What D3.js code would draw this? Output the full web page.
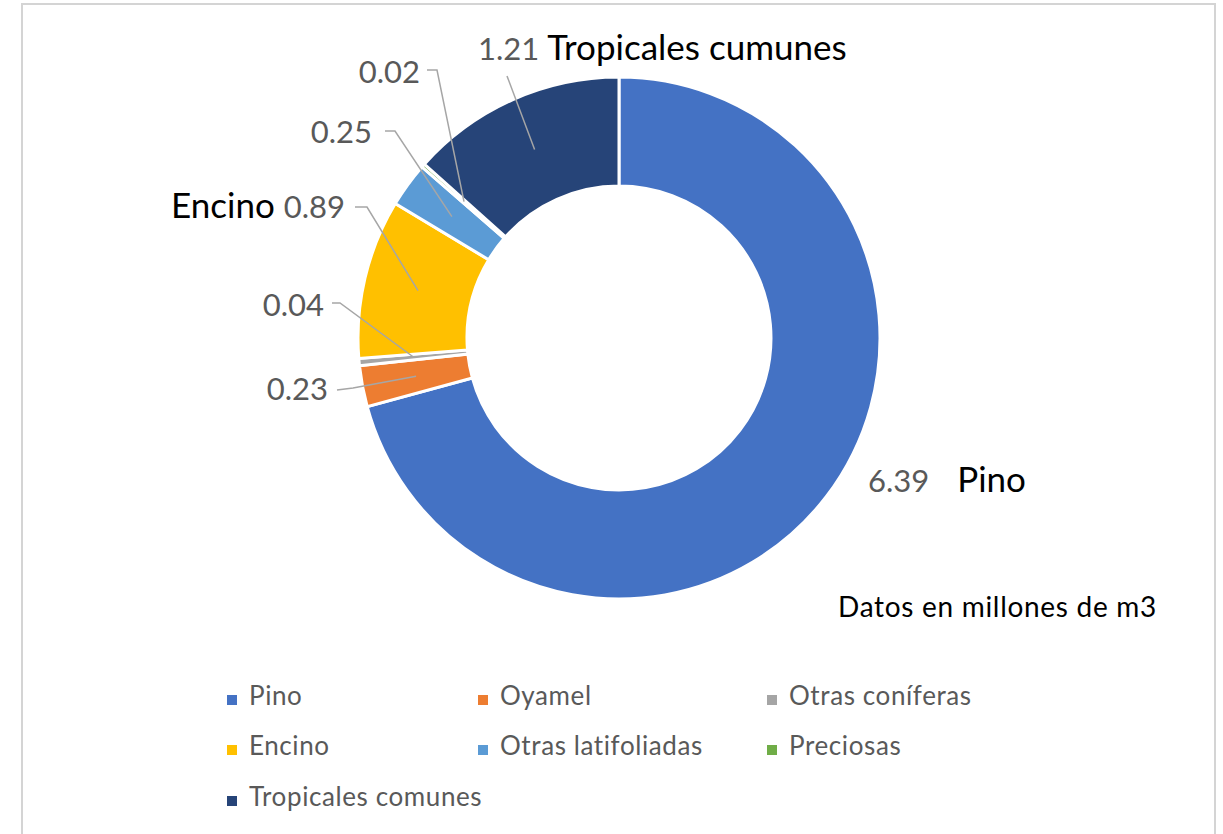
<!DOCTYPE html>
<html>
<head>
<meta charset="utf-8">
<script src="https://cdn.jsdelivr.net/npm/d3@7"></script>
<style>
  body { margin: 0; background: #fff; }
  svg { display: block; font-family: Lato, "Open Sans", sans-serif; }
</style>
</head>
<body>
<div id="donut-chart"></div>
<script>
// data (millones de m3)
var categories = ["Pino", "Oyamel", "Otras coníferas", "Encino", "Otras latifoliadas", "Preciosas", "Tropicales comunes"];
var values = [6.39, 0.23, 0.04, 0.89, 0.25, 0.02, 1.21];
var colors = ["#4472C4", "#ED7D31", "#A5A5A5", "#FFC000", "#5B9BD5", "#70AD47", "#264478"];
// extra category text written next to some labels (as in original)
var labelNames = ["Pino", "", "", "Encino", "", "", "Tropicales cumunes"];
var note = "Datos en millones de m3";

// label layout: text anchor point, start of leader line, elbow
var labelLayout = [
    {x: 868, y: 492, anchor: "start", gap: 28, line: null},
    {x: 328, y: 400, anchor: "end", line: [[337, 390], [353, 388]]},
    {x: 324, y: 316, anchor: "end", line: [[332, 303], [340, 303]]},
    {x: 345, y: 218, anchor: "end", line: [[355, 207], [367, 207]]},
    {x: 372, y: 143, anchor: "end", line: [[385, 131], [395, 131]]},
    {x: 420, y: 83, anchor: "end", line: [[427, 70], [437, 70]]},
    {x: 478, y: 60, anchor: "start", gap: 8, line: [[507, 76]]}
];

var width = 1223;
var height = 834;
var cx = 619, cy = 338;
var outerR = 261, innerR = 152;

var svg = d3.select("#donut-chart")
    .append("svg")
    .attr("width", width)
    .attr("height", height);

// chart frame
svg.append("path")
    .attr("d", "M22,834 V4 H1215 V834")
    .attr("fill", "none")
    .attr("stroke", "#d4d4d4")
    .attr("stroke-width", 2);

var data = categories.map(function (c, i) {
    return {name: c, value: values[i], color: colors[i], label: labelNames[i], layout: labelLayout[i]};
});

var pie = d3.pie()
    .sort(null)
    .value(d => d.value);

var arc = d3.arc()
    .innerRadius(innerR)
    .outerRadius(outerR);

var arcs = pie(data);

var g = svg.append("g")
    .attr("transform", "translate(" + cx + "," + cy + ")");

g.selectAll("path.slice")
    .data(arcs)
    .join("path")
    .attr("class", "slice")
    .attr("d", arc)
    .attr("fill", d => d.data.color)
    .attr("stroke", "#fff")
    .attr("stroke-width", 3);

// leader lines
svg.append("g")
    .selectAll("polyline")
    .data(arcs.filter(d => d.data.layout.line))
    .join("polyline")
    .attr("points", function (d) {
        var c = arc.centroid(d);
        var pts = d.data.layout.line.concat([[c[0] + cx, c[1] + cy]]);
        return pts.map(p => p.join(",")).join(" ");
    })
    .attr("fill", "none")
    .attr("stroke", "#a6a6a6")
    .attr("stroke-width", 1.5);

// value labels
var labels = svg.append("g")
    .selectAll("text")
    .data(arcs)
    .join("text")
    .attr("x", d => d.data.layout.x)
    .attr("y", d => d.data.layout.y)
    .attr("text-anchor", d => d.data.layout.anchor)
    .style("font-size", "31px");

labels.each(function (d) {
    var t = d3.select(this);
    var val = d.data.value.toFixed(2);
    if (d.data.label && d.data.layout.anchor === "end") {
        t.append("tspan").attr("fill", "#000").style("font-size", "35px").text(d.data.label + " ");
        t.append("tspan").attr("fill", "#595959").text(val);
    } else if (d.data.label) {
        t.append("tspan").attr("fill", "#595959").text(val);
        t.append("tspan").attr("fill", "#000").style("font-size", "35px")
            .attr("dx", d.data.layout.gap).text(d.data.label);
    } else {
        t.append("tspan").attr("fill", "#595959").text(val);
    }
});

svg.append("text")
    .attr("x", 838)
    .attr("y", 617)
    .attr("fill", "#000")
    .style("font-size", "28px")
    .style("letter-spacing", "0.7px")
    .text(note);

// legend
var legendCols = [227, 478, 767];
var legendRows = [705, 755, 806];

var legend = svg.append("g")
    .selectAll("g")
    .data(data)
    .join("g")
    .attr("transform", (d, i) => "translate(" + legendCols[i % 3] + "," + legendRows[Math.floor(i / 3)] + ")");

legend.append("rect")
    .attr("x", 0)
    .attr("y", -10)
    .attr("width", 10)
    .attr("height", 10)
    .attr("fill", d => d.color);

legend.append("text")
    .attr("x", 22)
    .attr("y", 0)
    .attr("fill", "#595959")
    .style("font-size", "26px")
    .style("letter-spacing", "0.6px")
    .text(d => d.name);
</script>
</body>
</html>
